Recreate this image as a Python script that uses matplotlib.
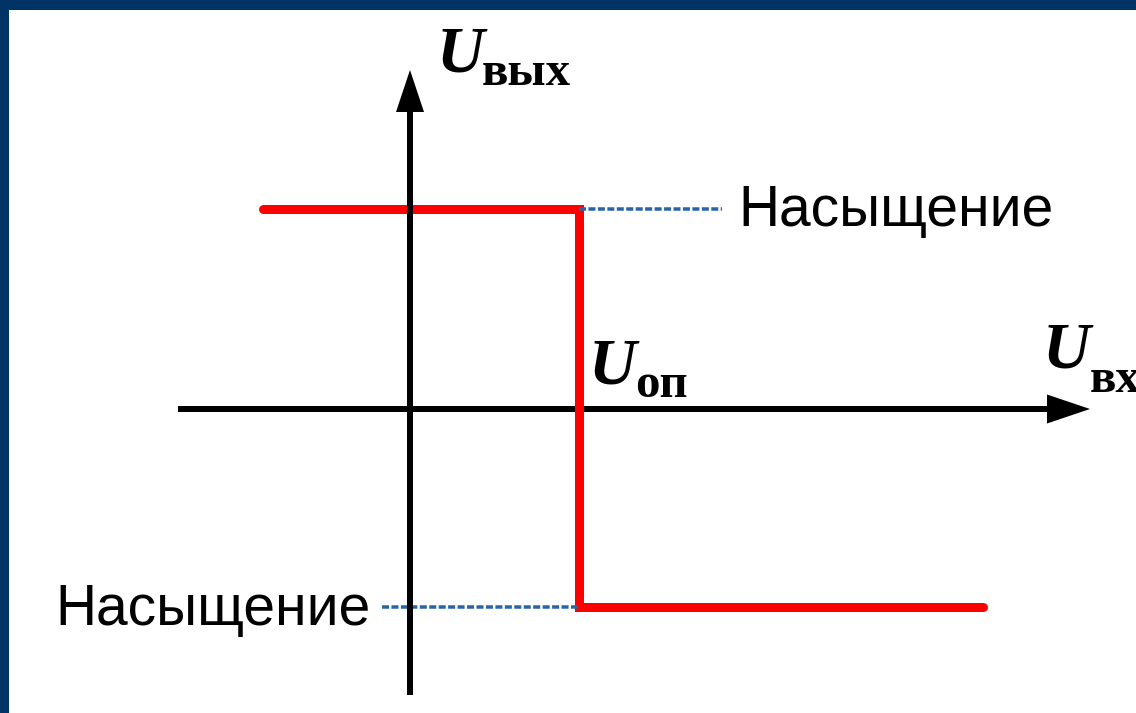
import matplotlib.pyplot as plt
from matplotlib.patches import Rectangle

# Передаточная характеристика компаратора (условные единицы, 1 ед. = 100 px)
u_in = [-1.47, 1.69, 1.69, 5.73]     # U_вх
u_out = [2.00, 2.00, -1.98, -1.98]   # U_вых
u_ref = 1.69                          # U_оп
u_sat_pos = 2.00
u_sat_neg = -1.98
sat_label = 'Насыщение'

W, H, DPI = 1136, 713, 72
fig = plt.figure(figsize=(W / DPI, H / DPI), dpi=DPI, facecolor='white')
ax = fig.add_axes([0, 0, 1, 1])
ax.set_xlim(-4.10, 7.26)
ax.set_ylim(-3.04, 4.09)
ax.axis('off')

# рамка слайда
border = '#003366'
fig.add_artist(Rectangle((0, 0), 8 / W, 1, transform=fig.transFigure, color=border))
fig.add_artist(Rectangle((0, 1 - 9 / H), 1, 9 / H, transform=fig.transFigure, color=border))

# оси со стрелками
ax.arrow(-2.32, 0, 9.12, 0, width=0.06, head_width=0.29, head_length=0.43,
         length_includes_head=True, fc='black', ec='none', zorder=1)
ax.arrow(0, -2.86, 0, 6.25, width=0.06, head_width=0.28, head_length=0.42,
         length_includes_head=True, fc='black', ec='none', zorder=4)

# характеристика
ax.plot(u_in, u_out, color='#ff0000', lw=9, solid_joinstyle='miter',
        solid_capstyle='round', zorder=2)

# пунктирные выноски к уровням насыщения
blue = '#2a64a8'
ax.plot([u_ref, 3.12], [u_sat_pos, u_sat_pos], color=blue, lw=3.5,
        linestyle=(0, (2, 0.7)), zorder=3)
ax.plot([-0.28, u_ref], [u_sat_neg, u_sat_neg], color=blue, lw=3.5,
        linestyle=(0, (2, 0.7)), zorder=3)

# подписи
U_kw = dict(family='Liberation Serif', weight='bold', style='italic', size=66,
            va='baseline', ha='left')
sub_kw = dict(family='Liberation Serif', weight='bold', size=49,
              va='baseline', ha='left')
ax.text(0.27, 3.37, 'U', **U_kw)
ax.text(0.72, 3.24, 'вых', **sub_kw)
ax.text(1.79, 0.26, 'U', **U_kw)
ax.text(2.25, 0.12, 'оп', **sub_kw)
ax.text(6.33, 0.42, 'U', **U_kw)
ax.text(6.80, 0.17, 'вх', **sub_kw)

lab_kw = dict(family='Liberation Sans', size=57, va='baseline', ha='left')
ax.text(3.28, u_sat_pos - 0.17, sat_label, **lab_kw)
ax.text(-3.55, u_sat_neg - 0.18, sat_label, **lab_kw)

fig.savefig('out.png', dpi=DPI, facecolor='white')
